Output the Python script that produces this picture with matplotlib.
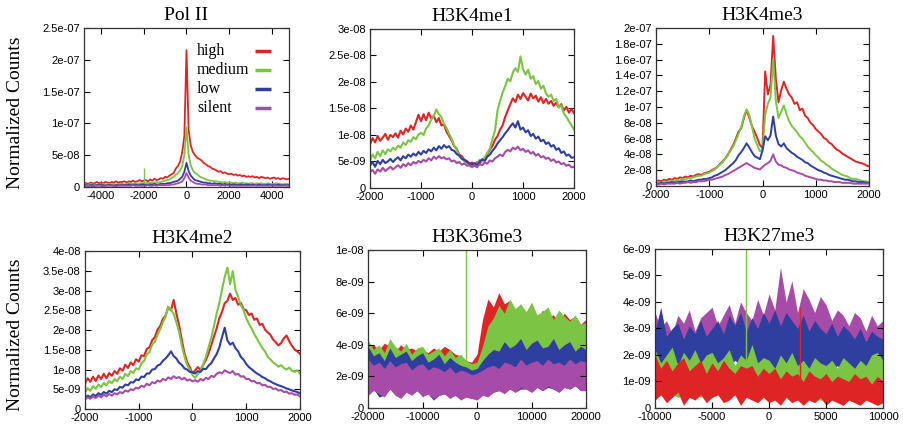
"""Perfis médios de ChIP-seq em torno do TSS, por classe de expressão
(high / medium / low / silent), em seis painéis no estilo gnuplot."""

import matplotlib

matplotlib.use("Agg")
import matplotlib.pyplot as plt
import numpy as np
from matplotlib.ticker import FuncFormatter

plt.rcParams["font.family"] = "Liberation Sans"
plt.rcParams["axes.unicode_minus"] = False

CLASSES = ["high", "medium", "low", "silent"]
CORES = {"high": "#de2424", "medium": "#7cc443", "low": "#2f3f9f", "silent": "#a64ca8"}
SERIF = "Liberation Serif"

# ---- Pol II (unidade 1e-8), passo de 100 pb ----
polii_x = np.arange(-5000, 5001, 100)
polii_high = [
    0.6, 0.5, 0.7, 0.6, 0.5, 0.7, 0.6, 0.6, 0.8, 0.6,
    0.7, 0.6, 0.8, 0.7, 0.6, 0.8, 0.7, 0.9, 0.7, 0.8,
    0.8, 0.9, 0.7, 0.9, 0.8, 1.0, 0.8, 0.9, 1.1, 0.9,
    1.0, 1.1, 0.9, 1.2, 1.0, 1.3, 1.1, 1.2, 1.4, 1.3,
    1.6, 1.5, 1.8, 2.0, 2.2, 2.9, 3.3, 4.0, 5.5, 8.0,
    21.5,
    9.0, 6.5, 5.5, 5.0, 4.6, 4.4, 4.2, 3.8, 3.6, 3.3,
    3.2, 2.9, 2.8, 2.6, 2.4, 2.5, 2.2, 2.3, 2.1, 2.0,
    2.1, 1.9, 2.0, 1.8, 1.9, 1.7, 1.8, 1.6, 1.7, 1.6,
    1.7, 1.5, 1.6, 1.4, 1.6, 1.5, 1.4, 1.5, 1.3, 1.4,
    1.5, 1.3, 1.4, 1.2, 1.4, 1.3, 1.2, 1.3, 1.1, 1.2,
]
polii_medium = [
    0.4, 0.3, 0.4, 0.4, 0.3, 0.5, 0.4, 0.4, 0.3, 0.4,
    0.4, 0.5, 0.4, 0.4, 0.5, 0.4, 0.5, 0.4, 0.5, 0.5,
    0.5, 0.4, 0.5, 0.6, 0.5, 0.5, 0.6, 0.5, 0.6, 0.6,
    0.6, 0.6, 0.7, 0.6, 0.7, 0.7, 0.8, 0.7, 0.8, 0.9,
    1.0, 1.1, 1.2, 1.4, 1.6, 1.9, 2.2, 2.6, 3.3, 5.0,
    9.4,
    5.0, 3.4, 2.6, 2.2, 2.0, 1.7, 1.5, 1.4, 1.2, 1.1,
    1.0, 1.0, 0.9, 0.9, 0.8, 0.8, 0.7, 0.8, 0.7, 0.7,
    0.7, 0.6, 0.7, 0.6, 0.6, 0.7, 0.6, 0.6, 0.5, 0.6,
    0.6, 0.5, 0.6, 0.5, 0.6, 0.5, 0.5, 0.6, 0.5, 0.5,
    0.5, 0.6, 0.5, 0.5, 0.4, 0.5, 0.5, 0.4, 0.5, 0.5,
]
polii_low = [
    0.3, 0.2, 0.3, 0.3, 0.2, 0.3, 0.3, 0.2, 0.3, 0.3,
    0.3, 0.3, 0.2, 0.3, 0.3, 0.3, 0.2, 0.3, 0.3, 0.3,
    0.3, 0.3, 0.3, 0.4, 0.3, 0.3, 0.4, 0.3, 0.3, 0.4,
    0.4, 0.3, 0.4, 0.4, 0.4, 0.5, 0.4, 0.4, 0.5, 0.5,
    0.5, 0.6, 0.6, 0.7, 0.8, 0.9, 1.0, 1.3, 1.6, 2.4,
    3.8,
    2.5, 1.8, 1.4, 1.1, 1.0, 0.9, 0.8, 0.7, 0.7, 0.6,
    0.6, 0.5, 0.6, 0.5, 0.5, 0.5, 0.4, 0.5, 0.4, 0.4,
    0.4, 0.4, 0.4, 0.3, 0.4, 0.4, 0.3, 0.4, 0.4, 0.3,
    0.4, 0.3, 0.3, 0.4, 0.3, 0.3, 0.3, 0.4, 0.3, 0.3,
    0.3, 0.3, 0.4, 0.3, 0.3, 0.3, 0.3, 0.3, 0.3, 0.3,
]
polii_silent = [
    0.2, 0.2, 0.1, 0.2, 0.2, 0.2, 0.1, 0.2, 0.2, 0.2,
    0.2, 0.1, 0.2, 0.2, 0.2, 0.2, 0.2, 0.1, 0.2, 0.2,
    0.2, 0.2, 0.2, 0.2, 0.2, 0.3, 0.2, 0.2, 0.2, 0.2,
    0.2, 0.2, 0.3, 0.2, 0.2, 0.3, 0.2, 0.3, 0.3, 0.3,
    0.3, 0.3, 0.3, 0.4, 0.4, 0.5, 0.6, 0.7, 0.9, 1.4,
    2.2,
    1.5, 1.0, 0.8, 0.6, 0.5, 0.5, 0.4, 0.4, 0.4, 0.3,
    0.3, 0.3, 0.3, 0.3, 0.3, 0.2, 0.3, 0.2, 0.3, 0.2,
    0.2, 0.2, 0.2, 0.2, 0.2, 0.2, 0.2, 0.2, 0.2, 0.2,
    0.2, 0.2, 0.2, 0.2, 0.2, 0.2, 0.2, 0.2, 0.2, 0.2,
    0.2, 0.2, 0.2, 0.2, 0.2, 0.2, 0.2, 0.2, 0.2, 0.2,
]
polii_spike_x, polii_spike_lo, polii_spike_hi = [-2000], [0.6], [3.0]

# ---- histonas H3K4 (passo de 50 pb) ----
k4_x = np.arange(-2000, 2001, 50)

# H3K4me1 (unidade 1e-9)
me1_high = [
    8.2, 9.4, 8.6, 9.8, 8.9, 9.5, 10.2, 9.1, 10.0, 9.6,
    10.3, 9.5, 10.8, 10.1, 11.2, 10.6, 11.8, 11.0, 12.4, 13.8,
    12.6, 13.9, 12.8, 14.2, 13.1, 13.6, 12.4, 13.2, 11.8, 12.0,
    10.6, 9.8, 9.0, 7.9, 7.4, 6.3, 6.0, 5.3, 5.1, 4.6,
    4.8,
    4.3, 4.9, 4.6, 5.3, 5.6, 6.4, 7.2, 7.9, 9.1, 9.8,
    11.0, 11.8, 13.4, 14.6, 15.8, 16.9, 16.2, 17.6, 16.8, 17.9,
    17.2, 16.5, 17.8, 16.9, 17.4, 16.3, 17.1, 16.0, 16.8, 15.9,
    16.4, 15.5, 16.1, 15.2, 15.8, 14.6, 15.3, 14.2, 14.9, 14.1,
]
me1_medium = [
    5.2, 6.3, 5.6, 6.8, 6.0, 7.1, 6.4, 7.3, 6.9, 7.6,
    7.2, 8.0, 7.6, 8.6, 8.1, 9.0, 8.7, 9.6, 9.2, 10.1,
    10.4, 10.0, 11.2, 11.8, 12.9, 13.6, 14.8, 13.9, 13.4, 12.1,
    11.3, 10.2, 9.3, 8.0, 7.2, 6.1, 5.6, 5.0, 4.8, 4.2,
    3.9,
    4.4, 4.7, 5.3, 5.0, 5.8, 6.6, 7.4, 9.2, 10.8, 14.6,
    16.4, 18.0, 19.2, 20.6, 20.1, 21.8, 22.6, 21.9, 24.8, 22.4,
    21.4, 22.3, 20.6, 21.1, 19.6, 20.2, 18.7, 19.3, 17.8, 17.2,
    17.6, 16.4, 16.8, 15.2, 15.6, 14.0, 13.4, 12.6, 11.8, 11.0,
]
me1_low = [
    4.2, 4.9, 4.0, 5.1, 4.5, 5.3, 4.7, 5.0, 5.5, 4.9,
    5.4, 5.8, 5.2, 6.0, 5.6, 6.3, 5.9, 6.5, 6.1, 6.8,
    6.3, 7.0, 6.6, 7.3, 6.9, 7.6, 7.1, 7.9, 7.4, 8.1,
    7.6, 7.9, 7.2, 7.0, 6.4, 6.1, 5.5, 5.3, 4.9, 4.6,
    4.4,
    4.7, 4.3, 5.0, 5.4, 5.1, 5.9, 6.3, 7.0, 7.6, 8.4,
    9.0, 9.6, 10.3, 10.9, 11.6, 12.2, 11.4, 12.6, 11.0, 11.4,
    10.5, 10.9, 9.8, 10.2, 9.3, 9.7, 8.8, 9.1, 8.3, 8.6,
    7.8, 8.1, 7.2, 7.5, 6.6, 6.9, 6.1, 6.3, 5.7, 5.8,
]
me1_silent = [
    3.0, 3.4, 2.7, 3.5, 3.1, 3.8, 3.2, 3.6, 4.0, 3.5,
    3.9, 4.3, 3.8, 4.5, 4.1, 4.7, 4.3, 4.9, 4.6, 5.1,
    4.8, 5.3, 5.0, 5.6, 5.2, 5.9, 5.5, 6.0, 5.6, 5.8,
    5.4, 5.6, 5.0, 5.2, 4.7, 4.9, 4.4, 4.6, 4.2, 4.3,
    4.0,
    4.2, 3.9, 4.5, 4.3, 4.8, 4.6, 5.2, 5.0, 5.6, 5.9,
    6.3, 6.0, 6.8, 7.2, 6.9, 7.6, 7.3, 7.8, 7.1, 7.4,
    6.8, 7.1, 6.5, 6.8, 6.1, 6.4, 5.8, 6.0, 5.5, 5.7,
    5.1, 5.4, 4.8, 5.0, 4.5, 4.7, 4.2, 4.4, 3.9, 4.0,
]

# H3K4me3 (unidade 1e-8)
me3_high = [
    0.5, 0.7, 0.6, 0.8, 0.7, 0.9, 0.8, 1.0, 0.9, 1.1,
    1.0, 1.2, 1.1, 1.3, 1.2, 1.4, 1.5, 1.4, 1.6, 1.7,
    1.8, 2.0, 2.2, 2.4, 2.8, 3.1, 3.5, 4.0, 4.6, 5.2,
    6.0, 6.9, 7.3, 8.6, 9.6, 8.7, 7.6, 6.9, 6.1, 5.2,
    4.8,
    14.5, 11.6, 12.8, 19.0, 13.6, 10.6, 12.1, 13.2, 12.3, 11.6,
    11.2, 10.4, 10.6, 9.6, 9.8, 8.9, 8.6, 8.0, 7.7, 7.2,
    6.9, 6.6, 6.1, 5.9, 5.5, 5.3, 4.9, 4.6, 4.4, 4.1,
    3.9, 3.7, 3.5, 3.3, 3.1, 3.0, 2.9, 2.8, 2.6, 2.5,
]
me3_medium = [
    0.4, 0.5, 0.4, 0.6, 0.5, 0.6, 0.7, 0.6, 0.8, 0.7,
    0.9, 0.8, 1.0, 1.0, 1.1, 1.2, 1.3, 1.3, 1.5, 1.6,
    1.7, 1.9, 2.1, 2.4, 2.7, 3.0, 3.5, 3.9, 4.5, 5.0,
    5.8, 6.6, 7.5, 8.8, 9.7, 9.0, 7.6, 6.0, 5.2, 4.4,
    4.6,
    9.0, 10.4, 11.2, 16.0, 10.8, 8.6, 9.4, 10.2, 9.1, 8.2,
    7.6, 7.2, 6.8, 6.3, 6.0, 5.5, 5.0, 4.6, 4.3, 3.9,
    3.6, 3.2, 3.0, 2.7, 2.5, 2.2, 2.0, 1.8, 1.6, 1.4,
    1.3, 1.2, 1.0, 0.9, 0.9, 0.8, 0.7, 0.6, 0.6, 0.5,
]
me3_low = [
    0.3, 0.3, 0.4, 0.3, 0.4, 0.4, 0.5, 0.4, 0.5, 0.5,
    0.6, 0.5, 0.6, 0.7, 0.6, 0.7, 0.8, 0.8, 0.9, 0.9,
    1.0, 1.1, 1.3, 1.4, 1.6, 1.8, 2.0, 2.3, 2.6, 2.9,
    3.3, 3.9, 4.3, 4.8, 5.4, 4.9, 4.3, 3.8, 3.6, 3.4,
    4.5,
    6.3, 5.8, 6.4, 8.8, 6.4, 5.3, 5.0, 5.4, 4.8, 4.5,
    4.2, 4.0, 3.7, 3.5, 3.3, 3.0, 2.9, 2.6, 2.4, 2.2,
    2.0, 1.9, 1.7, 1.6, 1.4, 1.3, 1.2, 1.1, 1.0, 0.9,
    0.8, 0.8, 0.7, 0.6, 0.6, 0.5, 0.5, 0.5, 0.4, 0.4,
]
me3_silent = [
    0.2, 0.2, 0.3, 0.2, 0.3, 0.3, 0.3, 0.3, 0.4, 0.3,
    0.4, 0.4, 0.5, 0.4, 0.5, 0.5, 0.6, 0.6, 0.6, 0.7,
    0.8, 0.8, 0.9, 1.0, 1.1, 1.2, 1.4, 1.5, 1.7, 1.9,
    2.1, 2.3, 2.5, 2.7, 2.9, 2.7, 2.5, 2.3, 2.2, 2.1,
    2.4,
    2.7, 2.9, 3.2, 4.0, 3.1, 2.7, 2.6, 2.4, 2.3, 2.1,
    2.0, 1.9, 1.7, 1.6, 1.5, 1.3, 1.2, 1.1, 1.0, 0.9,
    0.8, 0.8, 0.7, 0.7, 0.6, 0.6, 0.5, 0.5, 0.5, 0.4,
    0.4, 0.4, 0.4, 0.3, 0.3, 0.3, 0.3, 0.3, 0.3, 0.3,
]
me3_spike_x, me3_spike_lo, me3_spike_hi = [-2000], [0.4], [4.7]

# H3K4me2 (unidade 1e-9)
me2_high = [
    6.4, 7.8, 6.9, 8.2, 7.1, 8.5, 7.6, 8.9, 7.8, 9.1,
    8.4, 9.6, 8.9, 10.3, 9.7, 11.2, 10.4, 11.8, 11.1, 12.6,
    12.0, 13.6, 13.4, 15.2, 15.6, 17.4, 18.2, 20.1, 21.0, 22.8,
    23.6, 25.8, 25.0, 27.6, 24.2, 21.3, 17.6, 14.2, 11.9, 10.6,
    9.0,
    9.8, 10.6, 9.9, 11.2, 12.4, 14.1, 16.2, 18.3, 20.4, 23.0,
    24.6, 26.8, 27.4, 29.2, 27.6, 28.1, 26.4, 26.9, 25.3, 25.0,
    23.8, 24.2, 22.6, 22.9, 21.3, 21.6, 20.1, 19.4, 18.8, 17.6,
    16.9, 16.1, 16.7, 17.9, 18.6, 17.2, 16.0, 15.1, 14.6, 14.0,
]
me2_medium = [
    4.2, 5.3, 4.6, 5.8, 5.1, 6.2, 5.5, 6.6, 6.0, 7.1,
    6.5, 7.6, 7.0, 8.2, 7.6, 8.9, 8.3, 9.6, 9.1, 10.3,
    10.0, 11.6, 12.2, 13.8, 14.4, 16.3, 17.0, 18.8, 20.2, 22.0,
    23.4, 25.9, 25.2, 24.1, 22.0, 19.6, 16.2, 13.4, 11.2, 10.0,
    8.6,
    7.9, 8.8, 9.6, 11.4, 13.2, 15.6, 18.1, 21.0, 24.2, 26.8,
    30.2, 33.4, 35.8, 31.6, 34.9, 30.2, 28.4, 26.3, 25.1, 23.0,
    21.6, 20.4, 19.0, 17.8, 16.6, 15.4, 14.6, 13.2, 12.6, 11.8,
    11.3, 10.7, 11.1, 10.4, 10.0, 10.5, 9.7, 9.4, 9.8, 9.0,
]
me2_low = [
    2.8, 3.4, 3.0, 3.7, 3.3, 4.0, 3.6, 4.3, 3.9, 4.6,
    4.3, 5.0, 4.8, 5.6, 5.4, 6.2, 6.0, 6.8, 6.7, 7.5,
    7.3, 8.2, 8.1, 9.0, 9.0, 10.0, 10.1, 11.0, 11.3, 12.2,
    12.8, 13.6, 14.6, 13.4, 12.8, 11.7, 11.2, 10.3, 10.0, 9.4,
    9.3,
    9.0, 9.6, 9.4, 10.2, 10.1, 11.0, 11.6, 12.8, 13.9, 15.6,
    18.2, 20.6, 17.4, 16.3, 16.8, 15.4, 14.6, 13.2, 12.5, 11.4,
    10.6, 10.1, 9.5, 9.0, 8.6, 8.1, 7.8, 7.3, 7.0, 6.6,
    6.3, 6.0, 5.8, 5.5, 5.2, 5.0, 4.7, 4.5, 4.3, 4.0,
]
me2_silent = [
    2.4, 3.0, 2.6, 3.2, 2.8, 3.4, 3.0, 3.6, 3.2, 3.8,
    3.4, 4.0, 3.7, 4.3, 4.0, 4.7, 4.4, 5.0, 4.8, 5.4,
    5.2, 5.9, 5.6, 6.4, 6.0, 6.8, 6.5, 7.2, 6.9, 7.6,
    7.3, 8.0, 7.6, 8.3, 7.8, 8.1, 7.5, 7.9, 7.2, 7.5,
    7.0,
    7.3, 6.9, 7.6, 7.2, 7.9, 7.6, 8.4, 8.1, 8.9, 9.3,
    9.0, 9.8, 9.4, 9.1, 9.6, 8.7, 8.9, 8.2, 8.3, 7.6,
    7.6, 7.0, 7.1, 6.5, 6.6, 6.0, 6.1, 5.6, 5.6, 5.1,
    5.2, 4.7, 4.8, 4.3, 4.4, 3.9, 4.0, 3.6, 3.7, 3.2,
]
me2_spike_x, me2_spike_lo, me2_spike_hi = [-2000], [4.2], [22.0]

# ---- H3K36me3 (unidade 1e-9): faixas min/max, passo de 1000 pb ----
k36_x = np.arange(-20000, 20001, 1000)
k36_high_lo = [
    2.0, 1.8, 2.1, 1.9, 2.0, 1.8, 1.9, 1.7, 1.9, 1.8,
    1.8, 1.7, 1.9, 1.6, 1.8, 1.6, 1.5, 1.6, 1.4, 1.3,
    1.4, 2.2, 3.0, 3.6, 3.5, 3.2, 3.0, 2.8, 2.9, 2.7,
    2.8, 2.6, 2.8, 2.6, 2.7, 2.5, 2.7, 2.6, 2.6, 2.5,
    2.6,
]
k36_high_hi = [
    3.8, 4.0, 3.7, 4.1, 3.9, 3.6, 4.0, 3.7, 3.8, 3.6,
    3.7, 3.5, 3.8, 3.6, 3.9, 3.7, 3.4, 3.3, 3.0, 2.9,
    3.4, 5.6, 6.9, 6.4, 7.3, 6.6, 6.8, 5.9, 6.3, 5.8,
    6.0, 5.6, 6.2, 5.7, 5.9, 5.4, 6.0, 5.6, 5.8, 5.3,
    5.6,
]
k36_medium_lo = [
    1.6, 1.4, 1.7, 1.5, 1.6, 1.4, 1.5, 1.3, 1.5, 1.4,
    1.4, 1.3, 1.5, 1.2, 1.4, 1.2, 1.1, 1.2, 1.0, 1.0,
    1.1, 1.5, 2.0, 2.4, 2.5, 2.6, 2.6, 2.7, 2.6, 2.7,
    2.6, 2.7, 2.5, 2.6, 2.5, 2.6, 2.4, 2.5, 2.4, 2.5,
    2.4,
]
k36_medium_hi = [
    4.3, 3.7, 4.0, 3.5, 4.4, 3.9, 3.6, 4.1, 3.4, 3.8,
    3.9, 3.4, 3.6, 3.8, 3.3, 3.7, 3.2, 3.4, 3.0, 2.8,
    2.9, 3.9, 5.2, 5.7, 6.5, 6.0, 6.9, 6.3, 6.6, 6.1,
    6.7, 5.9, 6.1, 6.4, 5.6, 6.2, 5.8, 5.5, 5.9, 5.3,
    5.4,
]
k36_low_lo = [
    0.9, 1.2, 0.7, 0.8, 1.2, 0.9, 0.7, 1.0, 0.9, 1.1,
    0.8, 0.9, 0.5, 0.8, 0.9, 0.7, 0.8, 0.6, 0.7, 0.6,
    0.6, 0.8, 0.8, 1.0, 1.1, 1.0, 1.2, 1.0, 1.2, 1.2,
    1.0, 1.3, 1.1, 1.3, 1.2, 1.0, 1.3, 1.2, 1.4, 1.1,
    1.1,
]
k36_low_hi = [
    3.9, 3.3, 3.5, 3.0, 3.8, 3.2, 3.4, 3.6, 3.0, 3.3,
    3.5, 2.9, 3.1, 3.4, 2.8, 3.2, 2.9, 2.7, 2.6, 2.4,
    2.5, 3.0, 3.4, 3.7, 3.6, 4.2, 3.8, 4.0, 4.4, 3.7,
    4.1, 4.3, 3.8, 3.9, 4.4, 3.7, 4.0, 4.2, 3.6, 3.9,
    3.7,
]
k36_silent_lo = [
    0.8, 1.1, 0.9, 0.7, 1.2, 0.8, 0.6, 1.0, 0.8, 1.1,
    0.7, 0.9, 0.6, 0.8, 0.9, 0.6, 0.8, 0.5, 0.7, 0.6,
    0.5, 0.8, 0.7, 1.0, 1.1, 0.9, 1.2, 1.0, 1.3, 1.2,
    1.0, 1.3, 1.1, 1.4, 1.2, 1.0, 1.3, 1.2, 1.4, 1.1,
    1.1,
]
k36_silent_hi = [
    3.1, 2.7, 2.9, 2.5, 3.0, 2.6, 2.8, 2.9, 2.4, 2.7,
    2.8, 2.4, 2.6, 2.5, 2.3, 2.6, 2.2, 2.4, 2.3, 2.1,
    2.2, 2.4, 2.6, 2.7, 2.5, 2.9, 2.8, 2.6, 3.1, 2.7,
    2.9, 3.0, 2.7, 3.1, 2.8, 2.9, 2.7, 3.1, 2.8, 3.0,
    2.9,
]
k36_spike_x, k36_spike_lo, k36_spike_hi = [-2000], [2.8], [11.0]

# ---- H3K27me3 (unidade 1e-9): faixas min/max, passo de 500 pb ----
k27_x = np.arange(-10000, 10001, 500)
k27_silent_lo = [
    1.8, 1.7, 1.9, 1.8, 1.9, 1.7, 1.9, 1.8, 1.9, 1.8,
    1.9, 1.8, 2.0, 1.9, 2.0, 1.9, 2.0, 1.9, 2.1, 2.0,
    2.1, 2.0, 2.2, 2.1, 2.0, 1.9, 2.0, 1.8, 1.9, 1.8,
    1.8, 1.7, 1.8, 1.7, 1.8, 1.6, 1.7, 1.6, 1.7, 1.6,
    1.6,
]
k27_silent_hi = [
    3.6, 3.0, 3.3, 2.8, 3.5, 3.2, 3.7, 2.9, 3.4, 3.6,
    3.8, 3.1, 3.5, 3.9, 3.2, 4.0, 3.6, 3.3, 4.1, 3.5,
    4.3, 3.7, 5.3, 4.0, 4.8, 3.6, 4.5, 4.1, 3.6, 4.2,
    3.9, 3.3, 3.7, 3.5, 3.1, 3.6, 3.4, 2.9, 3.5, 3.1,
    3.3,
]
k27_low_lo = [
    1.7, 1.5, 1.8, 1.6, 1.7, 1.5, 1.8, 1.6, 1.7, 1.5,
    1.8, 1.6, 1.7, 1.5, 1.8, 1.6, 1.7, 1.5, 1.6, 1.4,
    1.5, 1.3, 1.6, 1.4, 1.5, 1.3, 1.6, 1.4, 1.5, 1.3,
    1.5, 1.4, 1.6, 1.3, 1.5, 1.4, 1.6, 1.3, 1.5, 1.4,
    1.5,
]
k27_low_hi = [
    2.9, 3.8, 2.7, 3.0, 3.2, 2.6, 3.1, 2.8, 3.3, 2.7,
    3.0, 3.3, 2.8, 3.5, 3.1, 3.6, 2.9, 3.4, 3.0, 3.6,
    3.2, 3.7, 3.1, 3.6, 3.3, 3.0, 3.5, 2.9, 3.3, 3.0,
    2.8, 3.2, 2.7, 3.1, 2.9, 2.6, 3.0, 2.5, 2.9, 2.7,
    2.6,
]
k27_medium_lo = [
    0.4, 0.5, 0.4, 0.5, 0.4, 0.5, 0.4, 0.5, 0.4, 0.5,
    0.4, 0.5, 0.4, 0.4, 0.5, 0.4, 0.4, 0.5, 0.4, 0.4,
    0.4, 0.3, 0.4, 0.4, 0.3, 0.4, 0.3, 0.4, 0.3, 0.3,
    0.3, 0.4, 0.3, 0.3, 0.4, 0.3, 0.3, 0.3, 0.4, 0.3,
    0.3,
]
k27_medium_hi = [
    2.2, 1.7, 2.0, 2.3, 1.6, 2.1, 1.8, 2.2, 1.7, 2.0,
    2.1, 1.7, 1.9, 2.2, 1.6, 2.0, 1.8, 2.4, 1.7, 1.9,
    1.8, 1.5, 2.0, 1.7, 2.1, 1.6, 1.8, 1.5, 1.9, 1.7,
    1.6, 1.8, 1.5, 1.9, 1.7, 1.5, 1.8, 1.6, 2.0, 2.1,
    1.8,
]
k27_high_lo = [
    0.3, 0.5, 0.2, 0.4, 0.6, 0.1, 0.4, 0.3, 0.5, 0.2,
    0.4, 0.5, 0.2, 0.3, 0.5, 0.1, 0.4, 0.3, 0.2, 0.4,
    0.2, 0.3, 0.1, 0.4, 0.2, 0.3, 0.1, 0.3, 0.2, 0.4,
    0.1, 0.3, 0.2, 0.1, 0.3, 0.2, 0.1, 0.3, 0.2, 0.1,
    0.2,
]
k27_high_hi = [
    2.0, 1.5, 1.8, 1.4, 1.7, 1.9, 1.4, 1.6, 1.8, 1.3,
    1.7, 1.4, 1.8, 1.5, 1.3, 1.6, 1.5, 1.6, 1.2, 1.5,
    1.3, 1.5, 1.1, 1.4, 1.2, 1.3, 1.0, 1.4, 1.2, 1.1,
    1.3, 1.0, 1.2, 1.1, 1.0, 1.3, 1.1, 1.2, 0.9, 1.2,
    1.0,
]
k27_spike_x = [-2000, 2700]
k27_spike_cls = ["medium", "high"]
k27_spike_lo = [1.8, 1.0]
k27_spike_hi = [7.0, 3.8]


def fmt_y(v, _pos):
    return "0" if abs(v) < 1e-20 else f"{v:g}"


def estilo(ax, titulo, xlim, xticks, ymax, ystep):
    ax.set_xlim(*xlim)
    ax.set_ylim(0, ymax)
    ax.set_xticks(xticks)
    ax.set_yticks(np.arange(0, ymax + ystep / 2, ystep))
    ax.yaxis.set_major_formatter(FuncFormatter(fmt_y))
    ax.tick_params(direction="in", top=True, right=True, length=4, width=0.8,
                   labelsize=8, pad=3)
    for s in ax.spines.values():
        s.set_linewidth(0.9)
        s.set_color("#333333")
    ax.set_title(titulo, fontfamily=SERIF, fontsize=14, pad=6)


def linhas(ax, x, series, escala, lw=1.5):
    for cls in CLASSES:
        ax.plot(x, np.asarray(series[cls]) * escala, color=CORES[cls], lw=lw)


def faixas(ax, x, bandas, escala, ordem):
    for cls in ordem:
        lo, hi = bandas[cls]
        ax.fill_between(x, np.asarray(lo) * escala, np.asarray(hi) * escala,
                        color=CORES[cls], lw=0)


def picos(ax, xs, los, his, escala, classes):
    for x, lo, hi, cls in zip(xs, los, his, classes):
        ax.vlines(x, lo * escala, hi * escala, color=CORES[cls], lw=1.0)


fig = plt.figure(figsize=(9.04, 4.30), dpi=100)

# linha de cima
ax1 = fig.add_axes([0.0929, 0.565, 0.2268, 0.370])
linhas(ax1, polii_x, {"high": polii_high, "medium": polii_medium,
                      "low": polii_low, "silent": polii_silent}, 1e-8, lw=1.3)
picos(ax1, polii_spike_x, polii_spike_lo, polii_spike_hi, 1e-8, ["medium"])
estilo(ax1, "Pol II", (-4800, 4800), [-4000, -2000, 0, 2000, 4000], 2.5e-7, 5e-8)

ax2 = fig.add_axes([0.4093, 0.5628, 0.2257, 0.370])
linhas(ax2, k4_x, {"high": me1_high, "medium": me1_medium,
                   "low": me1_low, "silent": me1_silent}, 1e-9)
estilo(ax2, "H3K4me1", (-2000, 2000), [-2000, -1000, 0, 1000, 2000], 3e-8, 5e-9)

ax3 = fig.add_axes([0.7257, 0.5674, 0.2356, 0.3674])
linhas(ax3, k4_x, {"high": me3_high, "medium": me3_medium,
                   "low": me3_low, "silent": me3_silent}, 1e-8, lw=1.4)
picos(ax3, me3_spike_x, me3_spike_lo, me3_spike_hi, 1e-8, ["medium"])
estilo(ax3, "H3K4me3", (-2000, 2000), [-2000, -1000, 0, 1000, 2000], 2e-7, 2e-8)

# linha de baixo
ax4 = fig.add_axes([0.0940, 0.0488, 0.2378, 0.3674])
linhas(ax4, k4_x, {"high": me2_high, "medium": me2_medium,
                   "low": me2_low, "silent": me2_silent}, 1e-9)
picos(ax4, me2_spike_x, me2_spike_lo, me2_spike_hi, 1e-9, ["medium"])
estilo(ax4, "H3K4me2", (-2000, 2000), [-2000, -1000, 0, 1000, 2000], 4e-8, 5e-9)

ax5 = fig.add_axes([0.4071, 0.0512, 0.2412, 0.3674])
faixas(ax5, k36_x, {"high": (k36_high_lo, k36_high_hi),
                    "medium": (k36_medium_lo, k36_medium_hi),
                    "low": (k36_low_lo, k36_low_hi),
                    "silent": (k36_silent_lo, k36_silent_hi)},
       1e-9, ["high", "medium", "low", "silent"])
picos(ax5, k36_spike_x, k36_spike_lo, k36_spike_hi, 1e-9, ["medium"])
estilo(ax5, "H3K36me3", (-20000, 20000), [-20000, -10000, 0, 10000, 20000], 1e-8, 2e-9)

ax6 = fig.add_axes([0.7246, 0.0512, 0.2522, 0.370])
faixas(ax6, k27_x, {"high": (k27_high_lo, k27_high_hi),
                    "medium": (k27_medium_lo, k27_medium_hi),
                    "low": (k27_low_lo, k27_low_hi),
                    "silent": (k27_silent_lo, k27_silent_hi)},
       1e-9, ["silent", "low", "medium", "high"])
picos(ax6, k27_spike_x, k27_spike_lo, k27_spike_hi, 1e-9, k27_spike_cls)
estilo(ax6, "H3K27me3", (-10000, 10000), [-10000, -5000, 0, 5000, 10000], 6e-9, 1e-9)

# rótulo do eixo y só na primeira coluna
for ax, lx, ly in ((ax1, -0.293, 0.465), (ax4, -0.284, 0.468)):
    ax.set_ylabel("Normalized Counts", fontfamily=SERIF, fontsize=14)
    ax.yaxis.set_label_coords(lx, ly)

# legenda à moda gnuplot: texto alinhado à esquerda, amostra à direita
for i, cls in enumerate(CLASSES):
    y = 0.855 - i * 0.1195
    ax1.text(0.551, y, cls, transform=ax1.transAxes, fontfamily=SERIF,
             fontsize=11.5, va="center", ha="left")
    ax1.plot([0.834, 0.912], [y, y], transform=ax1.transAxes,
             color=CORES[cls], lw=2.5, solid_capstyle="butt")

fig.savefig("out.png", dpi=100)
